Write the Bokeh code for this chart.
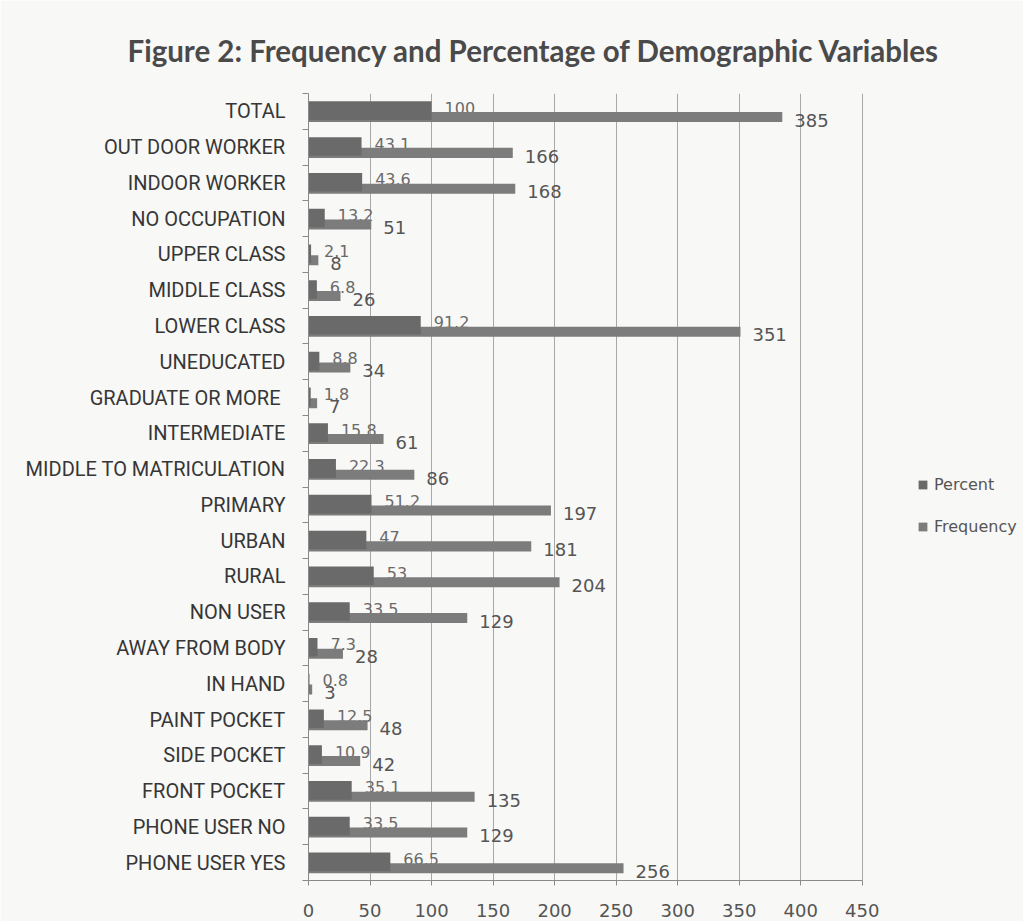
from bokeh.plotting import figure
from bokeh.models import (ColumnDataSource, Range1d, LinearAxis, FixedTicker, Legend, LegendItem)
from bokeh.transform import dodge
from bokeh.core.properties import value
from bokeh.embed import file_html
from bokeh.resources import INLINE

categories = ["TOTAL", "OUT DOOR WORKER", "INDOOR WORKER", "NO OCCUPATION", "UPPER CLASS",
              "MIDDLE CLASS", "LOWER CLASS", "UNEDUCATED", "GRADUATE  OR MORE", "INTERMEDIATE",
              "MIDDLE TO MATRICULATION", "PRIMARY", "URBAN", "RURAL", "NON USER",
              "AWAY FROM BODY", "IN HAND", "PAINT POCKET", "SIDE POCKET", "FRONT POCKET",
              "PHONE USER NO", "PHONE USER YES"]
percent = [100, 43.1, 43.6, 13.2, 2.1, 6.8, 91.2, 8.8, 1.8, 15.8, 22.3, 51.2, 47, 53, 33.5,
           7.3, 0.8, 12.5, 10.9, 35.1, 33.5, 66.5]
frequency = [385, 166, 168, 51, 8, 26, 351, 34, 7, 61, 86, 197, 181, 204, 129, 28, 3, 48, 42,
             135, 129, 256]
x_ticks = [0, 50, 100, 150, 200, 250, 300, 350, 400, 450]
series_names = ["Percent", "Frequency"]
title_text = "Figure 2: Frequency and Percentage of Demographic Variables"

BG = "#f8f8f6"
PCT_COLOR = "#6a6a6a"
FREQ_COLOR = "#7c7c7c"
AXIS_COLOR = "#8a8a8a"

n = len(categories)
# category slot index: first category at the top
pos = [n - 1 - i for i in range(n)]

src = ColumnDataSource(dict(
    pos=pos,
    pct=percent,
    freq=frequency,
    pct_lbl=[f"{v:g}" for v in percent],
    freq_lbl=[f"{v:g}" for v in frequency],
))

# the frame runs to the right edge so that the legend can sit beside the axis (axis stops at 450)
p = figure(width=1023, height=921,
           y_range=Range1d(-0.5, n - 0.5),
           x_range=Range1d(0, 581),
           output_backend="svg", toolbar_location=None, y_axis_location=None,
           min_border_left=308, min_border_right=0, min_border_top=93, min_border_bottom=41)
p.background_fill_color = BG
p.border_fill_color = BG
p.outline_line_color = None

# title
p.title.text = title_text
p.title.text_font = "Lato"
p.title.text_font_style = "bold"
p.title.text_font_size = "29.5px"
p.title.text_color = "#4a4a4a"
p.title.align = "left"
p.title.offset = -181
p.title.standoff = 52

# x axis
xa = p.xaxis[0]
xa.ticker = FixedTicker(ticks=x_ticks)
xa.bounds = (x_ticks[0], x_ticks[-1])
xa.major_tick_out = 5
xa.major_tick_in = 0
xa.minor_tick_line_color = None
xa.axis_line_color = AXIS_COLOR
xa.major_tick_line_color = AXIS_COLOR
xa.major_label_text_font = "DejaVu Sans"
xa.major_label_text_font_size = "18px"
xa.major_label_text_color = "#555555"
xa.major_label_standoff = 18

p.xgrid.ticker = FixedTicker(ticks=x_ticks)
p.xgrid.grid_line_color = "#a8a8a8"
p.ygrid.visible = False

# y axis: labels at slot centres, tick marks at slot edges
ya = LinearAxis(ticker=FixedTicker(ticks=pos, minor_ticks=[k - 0.5 for k in range(n + 1)]),
                major_label_overrides={k: c for k, c in zip(pos, categories)},
                major_tick_line_color=None, major_tick_out=0, major_tick_in=0,
                minor_tick_out=6, minor_tick_in=0, minor_tick_line_color=AXIS_COLOR,
                axis_line_color=AXIS_COLOR,
                major_label_text_font="Roboto",
                major_label_text_font_size="20px",
                major_label_text_color="#363636",
                major_label_standoff=17)
p.add_layout(ya, "left")

# percent labels (drawn under bars as in the original)
p.text(x="pct", y=dodge("pos", 0.1), text="pct_lbl", source=src,
       x_offset=13, text_baseline="middle", text_align="left",
       text_font=value("DejaVu Sans"), text_font_size="16px", text_color="#6a6a6a")

freq_r = p.hbar(y=dodge("pos", -0.16), left=0, right="freq", height=0.28,
                source=src, fill_color=FREQ_COLOR, line_color=None)
pct_r = p.hbar(y=dodge("pos", 0.02), left=0, right="pct", height=0.52,
               source=src, fill_color=PCT_COLOR, line_color=None)

p.text(x="freq", y=dodge("pos", -0.25), text="freq_lbl", source=src,
       x_offset=12, text_baseline="middle", text_align="left",
       text_font=value("DejaVu Sans"), text_font_size="18px", text_color="#555555")

legend = Legend(items=[LegendItem(label=series_names[0], renderers=[pct_r]),
                       LegendItem(label=series_names[1], renderers=[freq_r])],
                location=(609, 344), orientation="vertical",
                glyph_width=11, glyph_height=11, label_height=20, spacing=22,
                label_text_font="DejaVu Sans", label_text_font_size="16px",
                label_text_color="#555555", label_standoff=6,
                padding=0, margin=0, border_line_color=None, background_fill_alpha=0)
p.add_layout(legend, "center")

open("out.html", "w").write(file_html(p, INLINE))
